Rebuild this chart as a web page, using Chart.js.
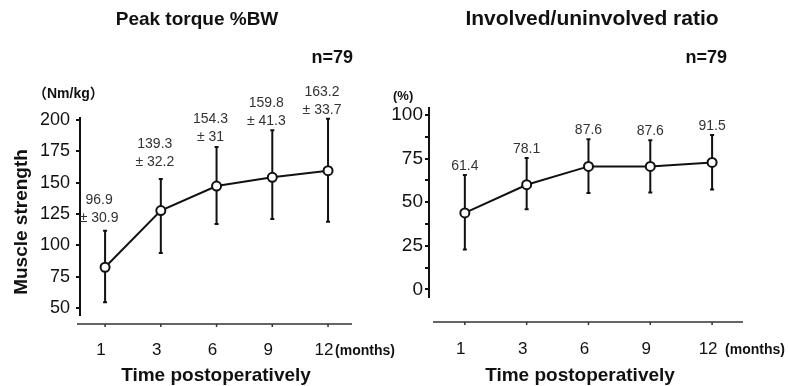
<!DOCTYPE html>
<html>
<head>
<meta charset="utf-8">
<script src="https://cdn.jsdelivr.net/npm/chart.js@4.4.0/dist/chart.umd.min.js"></script>
<style>
  html, body { margin: 0; padding: 0; background: #fff; }
  #wrap { position: relative; width: 788px; height: 386px; }
  canvas { position: absolute; left: 0; top: 0; }
</style>
</head>
<body>
<div id="wrap">
  <canvas id="torqueChart" width="788" height="386"></canvas>
  <canvas id="ratioChart" width="788" height="386"></canvas>
</div>
<script>
const months = ["1", "3", "6", "9", "12"];

// Peak torque %BW (Nm/kg): plotted mean, error bar ends, printed values
const torqueMean = [82.5, 127.7, 147.3, 154.3, 159.6];
const torqueHigh = [111.7, 153, 178.5, 191.8, 201];
const torqueLow = [54.5, 93.9, 117, 121, 118.9];
const torqueLabels = [["96.9", "± 30.9"], ["139.3", "± 32.2"], ["154.3", "± 31"], ["159.8", "± 41.3"], ["163.2", "± 33.7"]];
const torqueTicks = [50, 75, 100, 125, 150, 175, 200];

// Involved/uninvolved ratio (%)
const ratioMean = [43.8, 60.0, 70.5, 70.5, 72.8];
const ratioHigh = [65.6, 75.3, 86.1, 85.5, 88.5];
const ratioLow = [22.8, 46.0, 55.2, 55.6, 57.2];
const ratioLabels = [["61.4"], ["78.1"], ["87.6"], ["87.6"], ["91.5"]];
const ratioTicks = [0, 12.5, 25, 37.5, 50, 62.5, 75, 87.5, 100];

const FONT = "'Liberation Sans', Arial, 'Noto Sans CJK JP', sans-serif";

const errorBars = {
    id: "errorBars",
    beforeDatasetsDraw(chart, args, o) {
        const ctx = chart.ctx, x = chart.scales.x, y = chart.scales.y;
        ctx.save();
        ctx.strokeStyle = "#111";
        ctx.lineWidth = 2;
        o.high.forEach((hi, i) => {
            const px = x.getPixelForValue(i);
            const top = y.getPixelForValue(hi), bot = y.getPixelForValue(o.low[i]);
            ctx.beginPath();
            ctx.moveTo(px, top); ctx.lineTo(px, bot);
            ctx.moveTo(px - 2, top); ctx.lineTo(px + 2, top);
            ctx.moveTo(px - 2, bot); ctx.lineTo(px + 2, bot);
            ctx.stroke();
        });
        ctx.restore();
    }
};

const decor = {
    id: "decor",
    afterDraw(chart, args, o) {
        const ctx = chart.ctx, x = chart.scales.x, y = chart.scales.y, a = chart.chartArea;
        const mean = chart.data.datasets[0].data;
        ctx.save();

        // x axis sits under the plot, apart from the y axis
        const ly = a.bottom + o.axisGap;
        ctx.strokeStyle = "#333";
        ctx.lineWidth = 1.5;
        ctx.beginPath();
        ctx.moveTo(a.left + o.axisStart, ly);
        ctx.lineTo(a.right, ly);
        months.forEach((m, i) => {
            const px = x.getPixelForValue(i);
            ctx.moveTo(px, ly);
            ctx.lineTo(px, ly + 3);
        });
        ctx.stroke();

        // printed values above the bars
        ctx.fillStyle = "#333";
        ctx.font = "14px " + FONT;
        ctx.textAlign = "center";
        ctx.textBaseline = "alphabetic";
        o.labels.forEach((lines, i) => {
            const px = x.getPixelForValue(i) + o.labelDx;
            const base = Math.min(y.getPixelForValue(mean[i].y) - o.lift, y.getPixelForValue(o.high[i]) - o.clear);
            lines.forEach((t, k) => ctx.fillText(t, px, base - (lines.length - 1 - k) * 18));
        });

        // (months) after the last tick label
        ctx.fillStyle = "#111";
        ctx.font = "bold 14px " + FONT;
        ctx.textAlign = "left";
        ctx.fillText("(months)", x.getPixelForValue(months.length - 1) + o.monthsDx, o.monthsY);

        o.texts.forEach(t => {
            ctx.font = t.f + " " + FONT;
            ctx.textAlign = t.a || "center";
            if (t.rot) {
                ctx.save();
                ctx.translate(t.x, t.y);
                ctx.rotate(-Math.PI / 2);
                ctx.textBaseline = "middle";
                ctx.fillText(t.t, 0, 0);
                ctx.restore();
            } else {
                ctx.textBaseline = "alphabetic";
                ctx.fillText(t.t, t.x, t.y);
            }
        });
        ctx.restore();
    }
};

function makeChart(id, c) {
    new Chart(document.getElementById(id).getContext("2d"), {
        type: "line",
        data: {
            datasets: [{
                data: c.mean.map((v, i) => ({ x: i, y: v })),
                borderColor: "#111",
                borderWidth: 2,
                tension: 0,
                pointRadius: 4.5,
                pointBackgroundColor: "#fff",
                pointBorderColor: "#111",
                pointBorderWidth: 2
            }]
        },
        options: {
            responsive: false,
            animation: false,
            layout: { padding: c.padding },
            plugins: {
                legend: { display: false },
                tooltip: { enabled: false },
                errorBars: { high: c.high, low: c.low },
                decor: c.decor
            },
            scales: {
                x: {
                    type: "linear",
                    min: c.xMin,
                    max: c.xMax,
                    afterBuildTicks: s => { s.ticks = months.map((m, i) => ({ value: i })); },
                    afterFit: s => { s.height = c.xHeight; },
                    grid: { display: false },
                    border: { display: false },
                    ticks: {
                        callback: v => months[v],
                        font: { family: FONT, size: 17 },
                        color: "#111",
                        padding: c.xPad,
                        labelOffset: -4,
                        maxRotation: 0,
                        autoSkip: false
                    }
                },
                y: {
                    min: c.yMin,
                    max: c.yMax,
                    afterBuildTicks: s => { s.ticks = c.ticks.map(v => ({ value: v })); },
                    afterFit: s => { s.width = c.yWidth; },
                    grid: { drawOnChartArea: false, drawTicks: true, tickLength: 4, lineWidth: 2, color: "#111" },
                    border: { display: true, width: 2, color: "#111" },
                    ticks: {
                        callback: v => (v % 25 === 0 ? String(v) : ""),
                        font: { family: FONT, size: c.tickSize },
                        color: "#111",
                        padding: c.yPad,
                        autoSkip: false
                    }
                }
            }
        },
        plugins: [errorBars, decor]
    });
}

makeChart("torqueChart", {
    mean: torqueMean, high: torqueHigh, low: torqueLow, ticks: torqueTicks,
    yMin: 44.4, yMax: 201.6, xMin: -0.45, xMax: 4.43,
    padding: { top: 118, right: 436, bottom: 0, left: 0 },
    yWidth: 80, xHeight: 71, xPad: 17, yPad: 6, tickSize: 18,
    decor: {
        labels: torqueLabels, high: torqueHigh, lift: 45, clear: 5, labelDx: -6,
        axisGap: 9, axisStart: -3, monthsDx: 7, monthsY: 355,
        texts: [
            { t: "Peak torque %BW", x: 197, y: 25, f: "bold 19px" },
            { t: "n=79", x: 353, y: 63, f: "bold 18px", a: "right" },
            { t: "（Nm/kg）", x: 33, y: 98, f: "bold 14px", a: "left" },
            { t: "Muscle strength", x: 22, y: 222, f: "bold 19px", rot: true },
            { t: "Time postoperatively", x: 216, y: 381, f: "bold 19px" }
        ]
    }
});

makeChart("ratioChart", {
    mean: ratioMean, high: ratioHigh, low: ratioLow, ticks: ratioTicks,
    yMin: -4.4, yMax: 104, xMin: -0.58, xMax: 4.5,
    padding: { top: 108, right: 45, bottom: 0, left: 380 },
    yWidth: 49, xHeight: 89, xPad: 34, yPad: 2, tickSize: 19,
    decor: {
        labels: ratioLabels, high: ratioHigh, lift: 30, clear: 5, labelDx: 0,
        axisGap: 25, axisStart: 4, monthsDx: 13, monthsY: 354,
        texts: [
            { t: "Involved/uninvolved ratio", x: 592, y: 25, f: "bold 21px" },
            { t: "n=79", x: 727, y: 63, f: "bold 18px", a: "right" },
            { t: "(%)", x: 393, y: 100, f: "bold 13px", a: "left" },
            { t: "Time postoperatively", x: 580, y: 381, f: "bold 19px" }
        ]
    }
});
</script>
</body>
</html>
